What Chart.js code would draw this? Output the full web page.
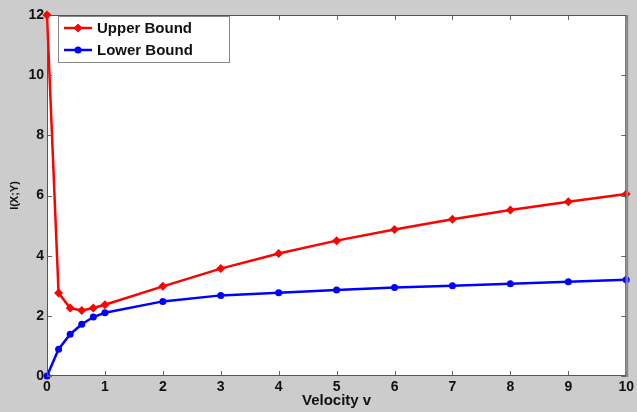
<!DOCTYPE html>
<html>
<head>
<meta charset="utf-8">
<script src="https://cdn.jsdelivr.net/npm/chart.js@4/dist/chart.umd.min.js"></script>
<style>
  html, body { margin: 0; padding: 0; background: #cccccc; }
  #wrap { width: 637px; height: 412px; position: relative; }
</style>
</head>
<body>
<div id="wrap"><canvas id="chart" width="637" height="412"></canvas></div>
<script>
// --- Données ---
const velocity = [0, 0.2, 0.4, 0.6, 0.8, 1, 2, 3, 4, 5, 6, 7, 8, 9, 10];
const upperBound = [12, 2.76, 2.26, 2.18, 2.26, 2.37, 2.98, 3.57, 4.07, 4.5, 4.87, 5.21, 5.52, 5.79, 6.05];
const lowerBound = [0, 0.89, 1.39, 1.72, 1.96, 2.1, 2.48, 2.68, 2.77, 2.86, 2.94, 3.0, 3.07, 3.13, 3.2];
const seriesNames = ["Upper Bound", "Lower Bound"];
const xTicks = [0, 1, 2, 3, 4, 5, 6, 7, 8, 9, 10];
const yTicks = [0, 2, 4, 6, 8, 10, 12];

const FONT = "'Liberation Sans', Arial, sans-serif";
const toPoints = (xs, ys) => xs.map((x, i) => ({ x: x, y: ys[i] }));

// fond blanc + cadre + ticks intérieurs
const frame = {
    id: 'frame',
    beforeDraw(chart) {
        const a = chart.chartArea, c = chart.ctx;
        c.save();
        c.fillStyle = '#ffffff';
        c.fillRect(a.left, a.top, a.right - a.left, a.bottom - a.top);
        c.restore();
    },
    afterDatasetsDraw(chart) {
        const a = chart.chartArea, c = chart.ctx;
        const xs = chart.scales.x, ys = chart.scales.y;
        c.save();
        c.strokeStyle = '#666666';
        c.lineWidth = 1;
        c.beginPath();
        xTicks.forEach(v => {
            const px = Math.round(xs.getPixelForValue(v)) + 0.5;
            c.moveTo(px, a.bottom); c.lineTo(px, a.bottom - 5);
            c.moveTo(px, a.top); c.lineTo(px, a.top + 5);
        });
        yTicks.forEach(v => {
            const py = Math.round(ys.getPixelForValue(v)) + 0.5;
            c.moveTo(a.left, py); c.lineTo(a.left + 5, py);
            c.moveTo(a.right, py); c.lineTo(a.right - 5, py);
        });
        c.stroke();
        c.strokeStyle = '#555555';
        c.strokeRect(a.left + 0.5, a.top + 0.5, a.right - a.left - 1, a.bottom - a.top - 1);
        c.strokeStyle = '#888888';
        c.lineWidth = 2;
        c.beginPath();
        c.moveTo(a.right + 1, a.top); c.lineTo(a.right + 1, a.bottom + 1);
        c.stroke();
        c.restore();
    },
    afterDraw(chart) {
        // légende à la MATLAB
        const a = chart.chartArea, c = chart.ctx;
        const x0 = a.left + 11, y0 = a.top + 1, w = 171, h = 46;
        c.save();
        c.fillStyle = '#ffffff';
        c.fillRect(x0, y0, w, h);
        c.strokeStyle = '#888888';
        c.lineWidth = 1;
        c.strokeRect(x0 + 0.5, y0 + 0.5, w, h);
        chart.data.datasets.forEach((ds, i) => {
            const cy = y0 + 12 + i * 22;
            c.strokeStyle = ds.borderColor;
            c.lineWidth = 2.5;
            c.beginPath();
            c.moveTo(x0 + 6, cy); c.lineTo(x0 + 34, cy);
            c.stroke();
            c.fillStyle = ds.borderColor;
            c.beginPath();
            if (ds.pointStyle === 'rectRot') {
                c.moveTo(x0 + 20, cy - 4.5); c.lineTo(x0 + 24.5, cy);
                c.lineTo(x0 + 20, cy + 4.5); c.lineTo(x0 + 15.5, cy);
                c.closePath();
            } else {
                c.arc(x0 + 20, cy, 3.5, 0, Math.PI * 2);
            }
            c.fill();
            c.fillStyle = '#111111';
            c.font = "bold 15px " + FONT;
            c.textBaseline = 'middle';
            c.fillText(ds.label, x0 + 39, cy + 1);
        });
        c.restore();
    }
};

new Chart(document.getElementById('chart'), {
    type: 'scatter',
    data: {
        datasets: [
            {
                label: seriesNames[0],
                data: toPoints(velocity, upperBound),
                showLine: true,
                borderColor: '#ff0000',
                backgroundColor: '#ff0000',
                borderWidth: 2.5,
                pointStyle: 'rectRot',
                pointRadius: 4.5,
                pointBorderWidth: 0
            },
            {
                label: seriesNames[1],
                data: toPoints(velocity, lowerBound),
                showLine: true,
                borderColor: '#0000ff',
                backgroundColor: '#0000ff',
                borderWidth: 2.5,
                pointStyle: 'circle',
                pointRadius: 3.5,
                pointBorderWidth: 0
            }
        ]
    },
    options: {
        responsive: false,
        animation: false,
        clip: false,
        layout: { padding: { top: 15, right: 9, left: 0, bottom: 0 } },
        plugins: { legend: { display: false }, tooltip: { enabled: false } },
        scales: {
            x: {
                type: 'linear', min: 0, max: 10,
                afterFit: s => { s.height = 36; },
                afterBuildTicks: s => { s.ticks = xTicks.map(v => ({ value: v })); },
                grid: { display: false, drawTicks: false, tickLength: 0 }, border: { display: false },
                ticks: { color: '#111111', padding: 3, maxRotation: 0, font: { family: FONT, size: 14, weight: 'bold' } },
                title: { display: true, text: 'Velocity v', color: '#111111', padding: { top: 0, bottom: 2 }, font: { family: FONT, size: 15, weight: 'bold' } }
            },
            y: {
                type: 'linear', min: 0, max: 12,
                afterFit: s => { s.width = 47; },
                afterBuildTicks: s => { s.ticks = yTicks.map(v => ({ value: v })); },
                grid: { display: false, drawTicks: false, tickLength: 0 }, border: { display: false },
                ticks: { color: '#111111', padding: 3, font: { family: FONT, size: 14, weight: 'bold' } },
                title: { display: true, text: 'I(X;Y)', color: '#111111', padding: { top: 8, bottom: 0 }, font: { family: FONT, size: 11, weight: 'bold' } }
            }
        }
    },
    plugins: [frame]
});
</script>
</body>
</html>
